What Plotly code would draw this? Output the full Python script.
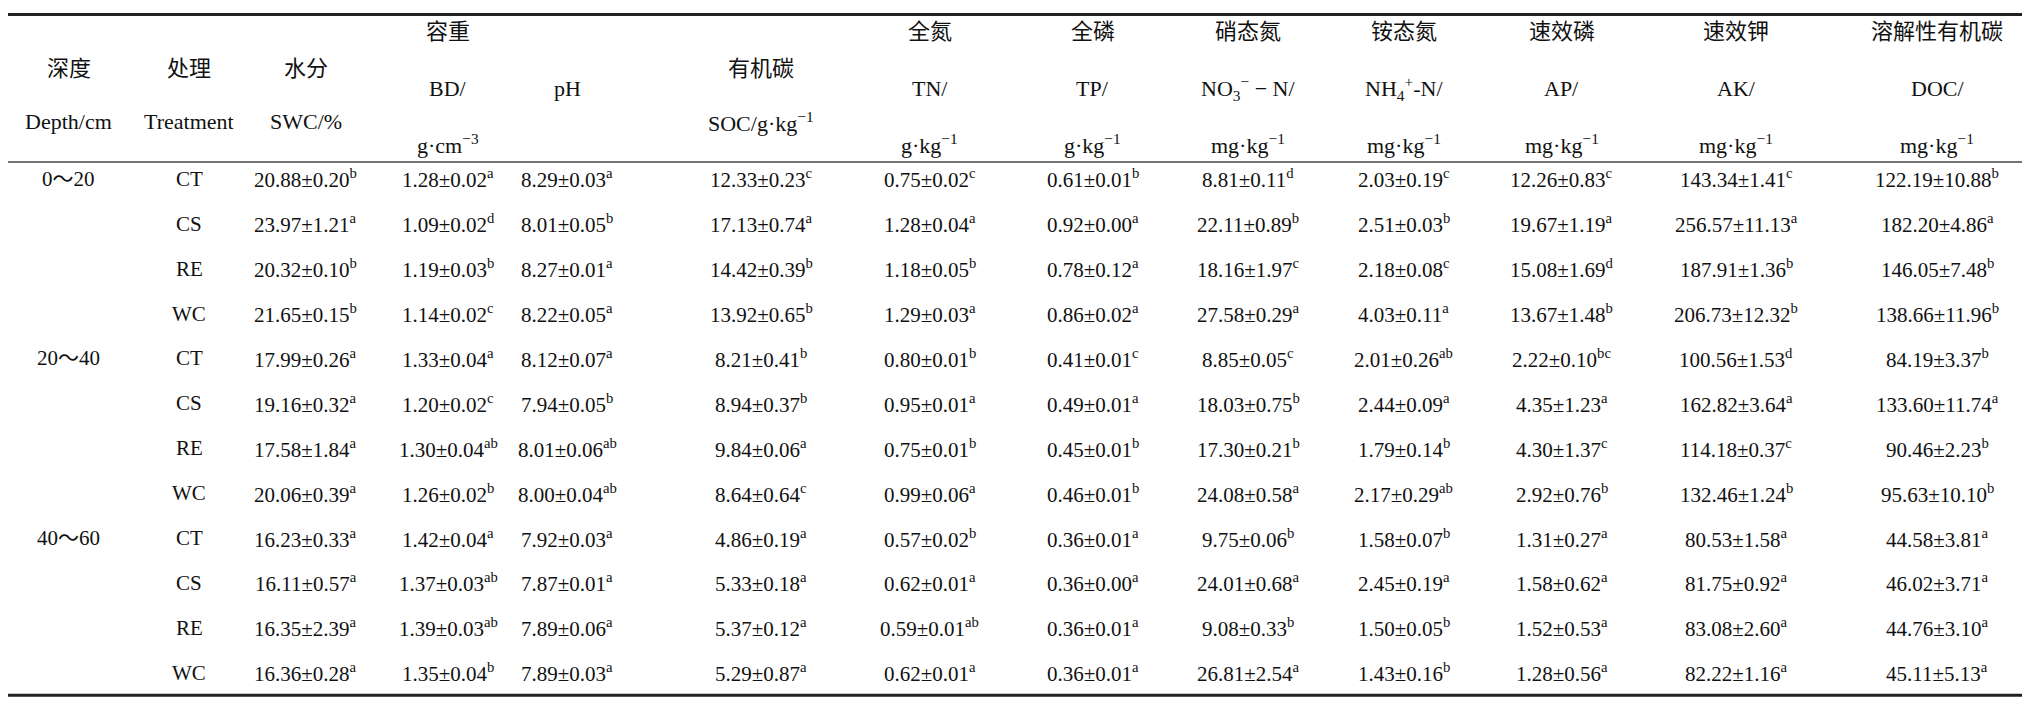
import plotly.graph_objects as go

depths = ["0～20", "", "", "", "20～40", "", "", "", "40～60", "", "", ""]
treatments = ["CT", "CS", "RE", "WC"] * 3
SWC = ["20.88±0.20|b","23.97±1.21|a","20.32±0.10|b","21.65±0.15|b","17.99±0.26|a","19.16±0.32|a","17.58±1.84|a","20.06±0.39|a","16.23±0.33|a","16.11±0.57|a","16.35±2.39|a","16.36±0.28|a"]
BD = ["1.28±0.02|a","1.09±0.02|d","1.19±0.03|b","1.14±0.02|c","1.33±0.04|a","1.20±0.02|c","1.30±0.04|ab","1.26±0.02|b","1.42±0.04|a","1.37±0.03|ab","1.39±0.03|ab","1.35±0.04|b"]
PH = ["8.29±0.03|a","8.01±0.05|b","8.27±0.01|a","8.22±0.05|a","8.12±0.07|a","7.94±0.05|b","8.01±0.06|ab","8.00±0.04|ab","7.92±0.03|a","7.87±0.01|a","7.89±0.06|a","7.89±0.03|a"]
SOC = ["12.33±0.23|c","17.13±0.74|a","14.42±0.39|b","13.92±0.65|b","8.21±0.41|b","8.94±0.37|b","9.84±0.06|a","8.64±0.64|c","4.86±0.19|a","5.33±0.18|a","5.37±0.12|a","5.29±0.87|a"]
TN = ["0.75±0.02|c","1.28±0.04|a","1.18±0.05|b","1.29±0.03|a","0.80±0.01|b","0.95±0.01|a","0.75±0.01|b","0.99±0.06|a","0.57±0.02|b","0.62±0.01|a","0.59±0.01|ab","0.62±0.01|a"]
TP = ["0.61±0.01|b","0.92±0.00|a","0.78±0.12|a","0.86±0.02|a","0.41±0.01|c","0.49±0.01|a","0.45±0.01|b","0.46±0.01|b","0.36±0.01|a","0.36±0.00|a","0.36±0.01|a","0.36±0.01|a"]
NO3 = ["8.81±0.11|d","22.11±0.89|b","18.16±1.97|c","27.58±0.29|a","8.85±0.05|c","18.03±0.75|b","17.30±0.21|b","24.08±0.58|a","9.75±0.06|b","24.01±0.68|a","9.08±0.33|b","26.81±2.54|a"]
NH4 = ["2.03±0.19|c","2.51±0.03|b","2.18±0.08|c","4.03±0.11|a","2.01±0.26|ab","2.44±0.09|a","1.79±0.14|b","2.17±0.29|ab","1.58±0.07|b","2.45±0.19|a","1.50±0.05|b","1.43±0.16|b"]
AP = ["12.26±0.83|c","19.67±1.19|a","15.08±1.69|d","13.67±1.48|b","2.22±0.10|bc","4.35±1.23|a","4.30±1.37|c","2.92±0.76|b","1.31±0.27|a","1.58±0.62|a","1.52±0.53|a","1.28±0.56|a"]
AK = ["143.34±1.41|c","256.57±11.13|a","187.91±1.36|b","206.73±12.32|b","100.56±1.53|d","162.82±3.64|a","114.18±0.37|c","132.46±1.24|b","80.53±1.58|a","81.75±0.92|a","83.08±2.60|a","82.22±1.16|a"]
DOC = ["122.19±10.88|b","182.20±4.86|a","146.05±7.48|b","138.66±11.96|b","84.19±3.37|b","133.60±11.74|a","90.46±2.23|b","95.63±10.10|b","44.58±3.81|a","46.02±3.71|a","44.76±3.10|a","45.11±5.13|a"]

headers = [
    ["", "深度", "Depth/cm", ""], ["", "处理", "Treatment", ""], ["", "水分", "SWC/%", ""],
    ["容重", "BD/", "", "g·cm<sup>−3</sup>"], ["", "pH", "", ""],
    ["", "有机碳", "SOC/g·kg<sup>−1</sup>", ""], ["全氮", "TN/", "", "g·kg<sup>−1</sup>"],
    ["全磷", "TP/", "", "g·kg<sup>−1</sup>"], ["硝态氮", "NO<sub>3</sub><sup>−</sup> − N/", "", "mg·kg<sup>−1</sup>"],
    ["铵态氮", "NH<sub>4</sub><sup>+</sup>-N/", "", "mg·kg<sup>−1</sup>"], ["速效磷", "AP/", "", "mg·kg<sup>−1</sup>"],
    ["速效钾", "AK/", "", "mg·kg<sup>−1</sup>"], ["溶解性有机碳", "DOC/", "", "mg·kg<sup>−1</sup>"],
]
columns = [depths, treatments, SWC, BD, PH, SOC, TN, TP, NO3, NH4, AP, AK, DOC]

W, H = 1568.0, 544.0
xc = [47, 140, 230, 340, 432, 582, 712, 838, 958, 1078, 1200, 1335, 1490]
FONT = "Liberation Serif, Noto Sans CJK SC"
fig = go.Figure()
ann = []
def add(x, y, t, size=22):
    ann.append(dict(x=x / W, y=1 - y / H, xref="paper", yref="paper", text=t, showarrow=False,
                    font=dict(family=FONT, size=size, color="#111"), xanchor="center", yanchor="middle"))

for i, h in enumerate(headers):
    if h[0] or h[3]:
        add(xc[i], 18, h[0]); add(xc[i], 62, h[1]); add(xc[i], 105, h[3])
    elif h[2]:
        add(xc[i], 47, h[1]); add(xc[i], 88, h[2])
    else:
        add(xc[i], 62, h[1])

for i, col in enumerate(columns):
    for r, v in enumerate(col):
        y = 132 + r * 34.7
        if "|" in v:
            a, b = v.split("|")
            v = a + "<sup>" + b + "</sup>"
        add(xc[i], y, v, 21)

fig.update_layout(annotations=ann, width=2030, height=704, margin=dict(l=0, r=0, t=0, b=0),
                  paper_bgcolor="white", plot_bgcolor="white",
                  xaxis=dict(visible=False, range=[0, 1]), yaxis=dict(visible=False, range=[0, 1]),
                  shapes=[
                      dict(type="line", xref="paper", yref="paper", x0=0, x1=1, y0=1 - 5 / H, y1=1 - 5 / H, line=dict(color="#222", width=3)),
                      dict(type="line", xref="paper", yref="paper", x0=0, x1=1, y0=1 - 119 / H, y1=1 - 119 / H, line=dict(color="#444", width=1.5)),
                      dict(type="line", xref="paper", yref="paper", x0=0, x1=1, y0=1 - 531 / H, y1=1 - 531 / H, line=dict(color="#222", width=3)),
                  ])
fig.write_html("out.html")
